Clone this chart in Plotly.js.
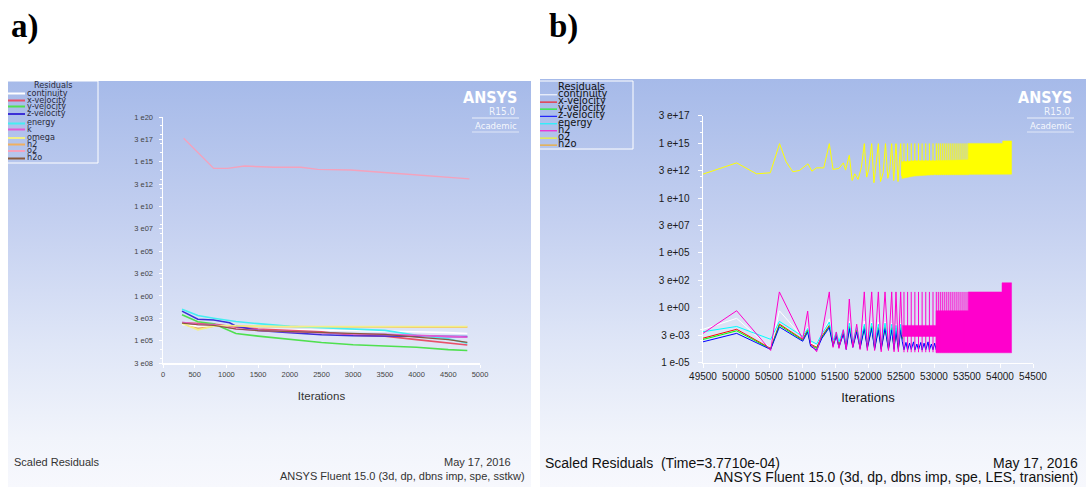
<!DOCTYPE html>
<html>
<head>
<meta charset="utf-8">
<script src="https://cdn.plot.ly/plotly-3.0.1.min.js"></script>
<style>
  html, body { margin: 0; padding: 0; background: #ffffff; }
  #wrap { position: relative; width: 1086px; height: 487px; overflow: hidden; }
  .panel { position: absolute;
           background: linear-gradient(to bottom, #a6bae9 0%, #c4d0f0 35%, #dfe6f7 65%, #f1f4fb 88%, #f7f8fd 100%); }
  #panelA { left: 8px; top: 81px; width: 523px; height: 406px; }
  #panelB { left: 540px; top: 79px; width: 546px; height: 408px; }
  #chart { position: absolute; left: 0; top: 0; width: 1086px; height: 487px; }
</style>
</head>
<body>
<div id="wrap">
  <div class="panel" id="panelA"></div>
  <div class="panel" id="panelB"></div>
  <div id="chart"></div>
</div>
<script>
// ---------- (a) steady run, sstkw ----------
const iterA = [300, 550, 800, 1050, 1150, 1500, 2000, 2500, 3000, 3500, 4000, 4500, 4800];
const contA   = [6.3e-4, 4.0e-4, 5.0e-4, 3.2e-4, 2.5e-4, 2.0e-4, 1.8e-4, 1.6e-4, 1.4e-4, 1.3e-4, 1.0e-4, 7.9e-5, 6.3e-5];
const xvelA   = [1.0e-3, 7.9e-4, 7.1e-4, 4.0e-4, 3.2e-4, 2.0e-4, 1.4e-4, 1.0e-4, 4.0e-5, 3.2e-5, 1.3e-5, 5.0e-6, 3.2e-6];
const yvelA   = [7.9e-3, 1.3e-3, 7.9e-4, 1.3e-4, 6.3e-5, 3.2e-5, 1.3e-5, 6.3e-6, 3.5e-6, 2.5e-6, 1.8e-6, 1.0e-6, 7.9e-7];
const zvelA   = [2.0e-2, 2.5e-3, 2.0e-3, 1.0e-3, 4.0e-4, 1.4e-4, 7.9e-5, 4.5e-5, 3.5e-5, 3.2e-5, 2.8e-5, 2.8e-5, 2.8e-5];
const energyA = [3.2e-2, 6.3e-3, 3.2e-3, 1.8e-3, 1.4e-3, 7.9e-4, 4.0e-4, 2.8e-4, 2.0e-4, 1.4e-4, 4.0e-5, 1.6e-5, 5.0e-6];
const kA      = [1.1e-3, 6.3e-4, 6.3e-4, 2.8e-4, 2.0e-4, 1.4e-4, 1.0e-4, 7.1e-5, 5.6e-5, 5.0e-5, 4.0e-5, 3.2e-5, 2.5e-5];
const omegaA  = [8.9e-4, 1.6e-4, 4.0e-4, 5.0e-4, 4.5e-4, 4.0e-4, 3.7e-4, 3.7e-4, 3.7e-4, 3.7e-4, 3.7e-4, 3.7e-4, 3.7e-4];
const h2A     = [8.0e-4, 2.2e-4, 4.2e-4, 4.5e-4, 4.2e-4, 3.8e-4, 3.5e-4, 3.4e-4, 3.3e-4, 3.3e-4, 3.2e-4, 3.2e-4, 3.2e-4];
const h2oA    = [9.0e-4, 6.0e-4, 5.0e-4, 2.5e-4, 2.0e-4, 1.3e-4, 1.0e-4, 8.0e-5, 6.3e-5, 5.0e-5, 2.5e-5, 1.3e-5, 6.3e-6];
const iterO2A = [326, 800, 1020, 1283, 1756, 2177, 2440, 2965, 3649, 4017, 4543, 4832];
const o2A     = [4.2e17, 1.8e14, 1.8e14, 3.3e14, 2.4e14, 2.4e14, 1.4e14, 1.2e14, 5.1e13, 3.3e13, 1.8e13, 1.2e13];

const namesA  = ['continuity', 'x-velocity', 'y-velocity', 'z-velocity', 'energy', 'k', 'omega', 'h2', 'o2', 'h2o'];
const colorsA = ['#ffffff', '#e8506a', '#4fe04f', '#3b2fd6', '#45eef2', '#e35ad2', '#f2ef86', '#f0b060', '#f4a2bc', '#8a5a3c'];
const xTicksA = [0, 500, 1000, 1500, 2000, 2500, 3000, 3500, 4000, 4500, 5000];
const yTickValsA = [1e20, 3.16e17, 1e15, 3.16e12, 1e10, 3.16e7, 1e5, 316, 1, 3.16e-3, 1e-5, 3.16e-8];
const yTickTextA = ['1 e20', '3 e17', '1 e15', '3 e12', '1 e10', '3 e07', '1 e05', '3 e02', '1 e00', '3 e03', '1 e05', '3 e08'];

// ---------- (b) transient LES run ----------
const iterB = [49500, 50010, 50525, 50657, 51011, 51086, 51130, 51222, 51300, 51414, 51470, 51520, 51560,
               51626, 51670, 51717, 51770, 51829, 51880, 51944, 51990, 52056, 52100, 52157, 52200, 52258,
               52310, 52359, 52395, 52424, 52460, 52495, 52520];
const contB   = [1.1e-2, 0.11, 2e-4, 0.54, 2e-3, 1.6e-2, 6.3e-4, 3.2e-4, 3.2e-3, 0.1, 6.3e-4, 5e-3, 5e-4,
                 7.9e-3, 4e-4, 6.3e-2, 5e-4, 1.3e-2, 4e-4, 6.3e-2, 4e-4, 5e-2, 3.2e-4, 5e-2, 3.2e-4, 5e-2,
                 3.2e-4, 4e-2, 3.2e-4, 3.2e-2, 3.2e-4, 4e-2, 2.5e-3];
const xvelB   = [1.7e-3, 1.1e-2, 2e-4, 3.3e-2, 1.3e-3, 1e-2, 5e-4, 2.5e-4, 2.5e-3, 2.5e-2, 5e-4, 4e-3, 4e-4,
                 6.3e-3, 3.2e-4, 2e-2, 4e-4, 1e-2, 3.2e-4, 2e-2, 3.2e-4, 2e-2, 2.5e-4, 1.6e-2, 2.5e-4, 2e-2,
                 2.5e-4, 1.6e-2, 2.5e-4, 1.3e-2, 2.5e-4, 1.6e-2, 1.6e-3];
const yvelB   = [1.3e-3, 8e-3, 1.8e-4, 2.6e-2, 1.1e-3, 8e-3, 4e-4, 2e-4, 2e-3, 2e-2, 4e-4, 3.2e-3, 3.2e-4,
                 5e-3, 2.5e-4, 1.6e-2, 3.2e-4, 8e-3, 2.5e-4, 1.6e-2, 2.5e-4, 1.6e-2, 2e-4, 1.3e-2, 2e-4, 1.6e-2,
                 2e-4, 1.3e-2, 2e-4, 1e-2, 2e-4, 1.3e-2, 1.3e-3];
const zvelB   = [8e-4, 4.7e-3, 1.6e-4, 1.8e-2, 9e-4, 6.3e-3, 3.2e-4, 1.4e-4, 1.6e-3, 1.6e-2, 3.2e-4, 2.5e-3, 2.5e-4,
                 4e-3, 1.6e-4, 1.3e-2, 2.5e-4, 6.3e-3, 2e-4, 1.3e-2, 2e-4, 1.3e-2, 1.6e-4, 1e-2, 1.6e-4, 1.3e-2,
                 1.6e-4, 1e-2, 1.6e-4, 8e-3, 1.6e-4, 1e-2, 8e-4];
const energyB = [6.6e-3, 2e-2, 1.35e-3, 5.8e-2, 2.5e-3, 1.3e-2, 1e-3, 5e-4, 4e-3, 5e-2, 1e-3, 6.3e-3, 7.9e-4,
                 1e-2, 6.3e-4, 4e-2, 7.9e-4, 1.6e-2, 6.3e-4, 3.2e-2, 6.3e-4, 4e-2, 5e-4, 3.2e-2, 6.3e-4, 4e-2,
                 5e-4, 3.2e-2, 6.3e-4, 2.5e-2, 6.3e-4, 3.2e-2, 3.2e-3];
const h2B     = [4.7e-3, 0.54, 1.3e-4, 28, 1.35e-3, 0.5, 5e-4, 1e-4, 4e-3, 28, 2.5e-4, 6.3e-3, 2e-4,
                 1e-2, 1.6e-4, 6.3, 2.5e-4, 3.2e-2, 1.6e-4, 28, 1.3e-4, 28, 1.3e-4, 28, 1e-4, 28,
                 1.3e-4, 28, 1e-4, 28, 1e-4, 28, 2.5e-3];
// z-velocity still visible under the h2 band
const zvelTailIter = [52520, 52545, 52575, 52600, 52630, 52655, 52690, 52710, 52740, 52765, 52800, 52820,
                      52850, 52875, 52910, 52930, 52960, 52985, 53010, 53035];
const zvelTailRes  = [8e-4, 1.5e-4, 7e-4, 1.4e-4, 6e-4, 1.6e-4, 7.9e-4, 1.4e-4, 5e-4, 1.5e-4, 7e-4, 1.4e-4,
                      6e-4, 1.5e-4, 7.9e-4, 1.4e-4, 5e-4, 1.5e-4, 6e-4, 1.4e-4];
// o2 history (yellow)
const iterO2B = [49500, 50010, 50310, 50520, 50660, 50760, 50860, 50960, 51090, 51150, 51220, 51330, 51414,
                 51470, 51560, 51626, 51660, 51717, 51760, 51800, 51850, 51900, 51944, 51980, 52010, 52056,
                 52090, 52120, 52157, 52190, 52230, 52265, 52300, 52330, 52359, 52390, 52424, 52455, 52495, 52510];
const o2B     = [1.5e12, 1.6e13, 1.6e12, 2e12, 9e14, 2e13, 2.5e12, 3.2e12, 1.3e13, 2.8e12, 5.6e12, 5.6e12, 9e14,
                 4e12, 5e12, 1.6e13, 3.5e12, 8e13, 4e11, 1.6e12, 5e11, 6.3e12, 9e14, 8e11, 4e12, 9e14,
                 2.5e11, 1e13, 9e14, 3.2e11, 2e12, 9e14, 6.3e11, 4e12, 9e14, 4e11, 9e14, 3.2e11, 9e14, 1e12];
// dense oscillation envelopes after 52500
const o2BandIter = [52510, 52700, 53030, 53520, 53521, 54040, 54041, 54175];
const o2BandHi   = [2e13, 2.5e13, 2.5e13, 3e13, 9.5e14, 9.5e14, 1.6e15, 1.6e15];
const o2BandLo   = [6e11, 1e12, 1.4e12, 1.5e12, 1.5e12, 1.5e12, 1.5e12, 1.5e12];
const h2BandIter = [52520, 53030, 53031, 53520, 53521, 54030, 54031, 54175];
const h2BandHi   = [2.5e-2, 2.5e-2, 0.54, 0.54, 28, 28, 190, 190];
const h2BandLo   = [2.5e-3, 2.5e-3, 8e-5, 8e-5, 8e-5, 8e-5, 8e-5, 8e-5];
// individual peaks rising out of the bands
const spikeIterB = [52545, 52600, 52655, 52710, 52765, 52820, 52875, 52930, 52985, 53035, 53065, 53095, 53125,
                    53155, 53185, 53215, 53245, 53275, 53305, 53335, 53365, 53395, 53425, 53455, 53485, 53515];
const o2SpikePeak = 9.5e14, o2SpikeBase = 1.2e12;
const h2SpikePeak = 28, h2SpikeBase = 9e-5;

const namesB  = ['continuity', 'x-velocity', 'y-velocity', 'z-velocity', 'energy', 'h2', 'o2', 'h2o'];
const colorsB = ['#ffffff', '#ff0000', '#00ff00', '#0000ff', '#00ffff', '#ff00cc', '#ffff00', '#ffa500'];
const xTicksB = [49500, 50000, 50500, 51000, 51500, 52000, 52500, 53000, 53500, 54000, 54500];
const yTickValsB = [3.16e17, 1e15, 3.16e12, 1e10, 3.16e7, 1e5, 316, 1, 3.16e-3, 1e-5];
const yTickTextB = ['3 e+17', '1 e+15', '3 e+12', '1 e+10', '3 e+07', '1 e+05', '3 e+02', '1 e+00', '3 e-03', '1 e-05'];

// ---------- helpers ----------
const W = 1086, H = 487;
const px = x => x / W;
const py = y => 1 - y / H;

function line(x, y, color, width, xa, ya) {
  return { type: 'scatter', mode: 'lines', x: x, y: y, xaxis: xa, yaxis: ya,
           line: { color: color, width: width }, hoverinfo: 'skip' };
}
function band(xs, hi, lo, color, xa, ya) {
  return { type: 'scatter', mode: 'lines', xaxis: xa, yaxis: ya, hoverinfo: 'skip',
           x: xs.concat(xs.slice().reverse()), y: hi.concat(lo.slice().reverse()),
           fill: 'toself', fillcolor: color, line: { color: color, width: 0.5 } };
}
function spikes(xs, base, peak, color, xa, ya) {
  const x = [], y = [];
  xs.forEach(s => { x.push(s, s, null); y.push(base, peak, null); });
  return line(x, y, color, 1, xa, ya);
}

const traces = [];
// (a): h2 sits underneath the omega curve
traces.push(line(iterA, h2A, colorsA[7], 1.6, 'x', 'y'));
const seriesA = [contA, xvelA, yvelA, zvelA, energyA, kA, omegaA];
seriesA.forEach((s, i) => traces.push(line(iterA, s, colorsA[i], 1.6, 'x', 'y')));
traces.push(line(iterO2A, o2A, colorsA[8], 1.4, 'x', 'y'));
traces.push(line(iterA, h2oA, colorsA[9], 1.2, 'x', 'y'));
// (b)
const seriesB = [contB, xvelB, yvelB, zvelB, energyB];
seriesB.forEach((s, i) => traces.push(line(iterB, s, colorsB[i], 1, 'x2', 'y2')));
traces.push(line(zvelTailIter, zvelTailRes, colorsB[3], 1, 'x2', 'y2'));
traces.push(line(iterB, h2B, colorsB[5], 1, 'x2', 'y2'));
traces.push(band(h2BandIter, h2BandHi, h2BandLo, colorsB[5], 'x2', 'y2'));
traces.push(spikes(spikeIterB, h2SpikeBase, h2SpikePeak, colorsB[5], 'x2', 'y2'));
traces.push(line(iterO2B, o2B, colorsB[6], 1, 'x2', 'y2'));
traces.push(band(o2BandIter, o2BandHi, o2BandLo, colorsB[6], 'x2', 'y2'));
traces.push(spikes(spikeIterB, o2SpikeBase, o2SpikePeak, colorsB[6], 'x2', 'y2'));

// ---------- annotations & shapes ----------
const annotations = [];
const shapes = [];
function text(t, x, y, size, color, family, xanchor, extra) {
  annotations.push(Object.assign({ text: t, x: px(x), y: py(y), xref: 'paper', yref: 'paper',
    xanchor: xanchor || 'left', yanchor: 'middle', showarrow: false,
    font: { size: size, color: color, family: family } }, extra || {}));
}
function hline(x0, x1, y, color, width) {
  shapes.push({ type: 'line', xref: 'paper', yref: 'paper', x0: px(x0), x1: px(x1), y0: py(y), y1: py(y),
                line: { color: color, width: width } });
}
const SERIF = 'Liberation Serif, DejaVu Serif, serif';
const SANS = 'Liberation Sans, Arial, sans-serif';
const NARROW = 'Liberation Sans Narrow, DejaVu Sans Condensed, Liberation Sans, sans-serif';
const LOGO = 'DejaVu Sans Condensed, DejaVu Sans, sans-serif';

text('<b>a)</b>', 9, 26, 33, '#000', SERIF);
text('<b>b)</b>', 547, 26, 33, '#000', SERIF);

// legend (a)
shapes.push({ type: 'rect', xref: 'paper', yref: 'paper', x0: px(7), x1: px(98), y0: py(81), y1: py(163),
              line: { color: '#ffffff', width: 1 } });
text('Residuals', 32, 85, 9, '#2a2a3a', NARROW);
const legYA = [92.5, 99.5, 105.5, 113, 122.5, 128.5, 137, 143.5, 150, 157.5];
namesA.forEach((n, i) => {
  text(n, 25, legYA[i], 9, '#2a2a3a', NARROW);
  hline(8, 25, legYA[i] + 1, colorsA[i], 2);
});
// legend (b)
shapes.push({ type: 'rect', xref: 'paper', yref: 'paper', x0: px(539), x1: px(633), y0: py(81), y1: py(149),
              line: { color: '#ffffff', width: 1 } });
text('Residuals', 556, 86, 11, '#111', NARROW);
const legYB = [93.3, 100.6, 107.6, 114.8, 122.3, 129.3, 136.6, 143.6];
namesB.forEach((n, i) => {
  text(n, 556, legYB[i], 11, '#111', NARROW);
  hline(540, 557, legYB[i] + 1.5, colorsB[i], 1);
});

// logos
[518, 1073].forEach(r => {
  text('<b>ANSYS</b>', r + 1, 98, 16, '#ffffff', LOGO, 'right');
  text('R15.0', r, 111, 10, 'rgba(255,255,255,0.85)', LOGO, 'right');
  hline(r - 46, r + 1, 118, 'rgba(255,255,255,0.75)', 1);
  text('Academic', r - 22, 126, 9.5, 'rgba(255,255,255,0.9)', LOGO, 'center');
  hline(r - 46, r + 1, 132, 'rgba(255,255,255,0.6)', 1);
});

// footers
text('Scaled Residuals', 12, 462, 11, '#333', SANS);
text('May 17, 2016', 513, 462, 11, '#333', SANS, 'right');
text('ANSYS Fluent 15.0 (3d, dp, dbns imp, spe, sstkw)', 527, 476, 11, '#333', SANS, 'right');
text('Scaled Residuals  (Time=3.7710e-04)', 543, 463, 14, '#111', SANS);
text('May 17, 2016', 1080, 463, 14, '#111', SANS, 'right');
text('ANSYS Fluent 15.0 (3d, dp, dbns imp, spe, LES, transient)', 1080, 477, 14, '#111', SANS, 'right');

// ---------- axes ----------
const axisCommon = { showgrid: false, zeroline: false, showline: true, linecolor: '#ffffff', linewidth: 1.5,
                     ticks: 'outside', tickcolor: '#ffffff', tickmode: 'array', fixedrange: true };
const decadesA = [], decadesB = [];
for (let e = 19; e >= -7; e--) decadesA.push(Math.pow(10, e));
for (let e = 17; e >= -4; e--) decadesB.push(Math.pow(10, e));

const layout = {
  width: W, height: H, margin: { l: 0, r: 0, t: 0, b: 0 },
  paper_bgcolor: 'rgba(0,0,0,0)', plot_bgcolor: 'rgba(0,0,0,0)', showlegend: false,
  xaxis: Object.assign({}, axisCommon, {
    domain: [px(163), px(480)], range: [0, 5000], anchor: 'y',
    tickvals: xTicksA, ticktext: xTicksA.map(String), ticklen: 3,
    tickfont: { size: 7.5, color: '#444', family: SANS },
    title: { text: 'Iterations', standoff: 14, font: { size: 11.5, color: '#333', family: SANS } }
  }),
  yaxis: Object.assign({}, axisCommon, {
    type: 'log', domain: [py(363), py(117)], range: [-7.5, 20], anchor: 'x',
    tickvals: yTickValsA, ticktext: yTickTextA, ticklen: 3, ticklabelstandoff: 4,
    tickfont: { size: 7.5, color: '#444', family: SANS },
    minor: { tickmode: 'array', tickvals: decadesA, ticks: 'outside', ticklen: 2, tickcolor: '#ffffff' }
  }),
  xaxis2: Object.assign({}, axisCommon, {
    domain: [px(703), px(1033)], range: [49500, 54500], anchor: 'y2',
    tickvals: xTicksB, ticktext: xTicksB.map(String), ticklen: 4,
    tickfont: { size: 10, color: '#1a1a1a', family: SANS },
    title: { text: 'Iterations', standoff: 11, font: { size: 13, color: '#1a1a1a', family: SANS } }
  }),
  yaxis2: Object.assign({}, axisCommon, {
    type: 'log', domain: [py(362.7), py(115.7)], range: [-5, 17.5], anchor: 'x2',
    tickvals: yTickValsB, ticktext: yTickTextB, ticklen: 4, ticklabelstandoff: 6,
    tickfont: { size: 10, color: '#1a1a1a', family: SANS },
    minor: { tickmode: 'array', tickvals: decadesB, ticks: 'outside', ticklen: 2, tickcolor: '#ffffff' }
  }),
  annotations: annotations,
  shapes: shapes
};

Plotly.newPlot('chart', traces, layout, { staticPlot: true, displayModeBar: false });
</script>
</body>
</html>
